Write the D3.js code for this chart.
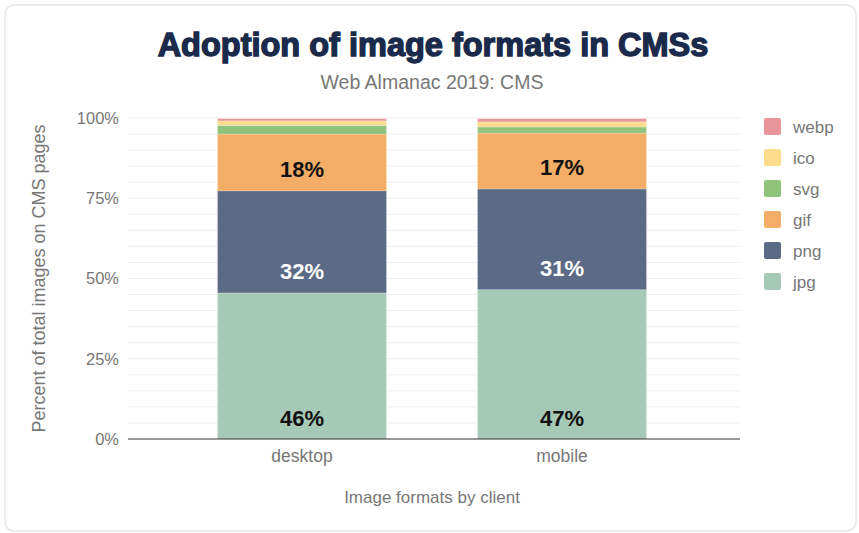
<!DOCTYPE html>
<html>
<head>
<meta charset="utf-8">
<script src="https://cdn.jsdelivr.net/npm/d3@7"></script>
<style>
  html, body { margin: 0; padding: 0; background: #fff; }
  svg { display: block; font-family: "Liberation Sans", Arial, sans-serif; }
</style>
</head>
<body>
<div id="app"></div>
<script>
const width = 859;
const height = 533;

// data
const clients = ['desktop', 'mobile'];
const formats = ['jpg', 'png', 'gif', 'svg', 'ico', 'webp'];
const jpg  = [45.5, 46.5];
const png  = [31.8, 31.4];
const gif  = [17.7, 17.4];
const svgV = [2.7, 1.9];
const ico  = [1.4, 1.6];
const webp = [0.7, 1.0];
const labelled = ['jpg', 'png', 'gif'];
const yTicks = [0, 25, 50, 75, 100];

const colors = {
  jpg: '#a6c8b7',
  png: '#5c6b85',
  gif: '#f4ad67',
  svg: '#8fc47a',
  ico: '#fddd8c',
  webp: '#e8969a'
};
const labelColor = { jpg: '#111', png: '#fff', gif: '#111' };

const rows = clients.map((c, i) => ({
  client: c,
  jpg: jpg[i], png: png[i], gif: gif[i],
  svg: svgV[i], ico: ico[i], webp: webp[i]
}));

const stacked = d3.stack().keys(formats)(rows);

const margin = { top: 118, right: 119, bottom: 94, left: 128 };

const svg = d3.select('#app').append('svg')
  .attr('width', width)
  .attr('height', height);

// card
svg.append('rect')
  .attr('x', 5).attr('y', 5)
  .attr('width', 851).attr('height', 526)
  .attr('rx', 9)
  .attr('fill', '#fff')
  .attr('stroke', '#e6e6e6')
  .attr('stroke-width', 1.5);

const y = d3.scaleLinear()
  .domain([0, 100])
  .range([height - margin.bottom, margin.top]);

const x = d3.scaleBand()
  .domain(clients)
  .range([172, 692])
  .paddingInner(0.35)
  .paddingOuter(0.175);

// gridlines every 5%
svg.append('g')
  .selectAll('line')
  .data(d3.range(5, 101, 5))
  .join('line')
  .attr('x1', margin.left)
  .attr('x2', width - margin.right)
  .attr('y1', d => y(d))
  .attr('y2', d => y(d))
  .attr('stroke', '#efefef')
  .attr('stroke-width', 1);

// bars
svg.append('g')
  .selectAll('g')
  .data(stacked)
  .join('g')
  .attr('fill', d => colors[d.key])
  .selectAll('rect')
  .data(d => d)
  .join('rect')
  .attr('x', d => x(d.data.client))
  .attr('width', x.bandwidth())
  .attr('y', d => y(d[1]))
  .attr('height', d => y(d[0]) - y(d[1]))
  .attr('stroke', '#fff')
  .attr('stroke-opacity', 0.35)
  .attr('stroke-width', 0.6);

// value labels
svg.append('g')
  .selectAll('g')
  .data(stacked.filter(s => labelled.includes(s.key)))
  .join('g')
  .attr('fill', d => labelColor[d.key])
  .selectAll('text')
  .data(d => d)
  .join('text')
  .attr('x', d => x(d.data.client) + x.bandwidth() / 2)
  .attr('y', d => y(d[0]) - 21)
  .attr('text-anchor', 'middle')
  .attr('dominant-baseline', 'central')
  .style('font-size', '22px')
  .style('font-weight', 'bold')
  .text(d => d3.format('.0f')(d[1] - d[0]) + '%');

// y axis
const yAxis = svg.append('g')
  .attr('transform', `translate(${margin.left},0)`)
  .call(d3.axisLeft(y).tickValues(yTicks).tickFormat(d => d + '%').tickSize(0).tickPadding(9));
yAxis.select('.domain').remove();
yAxis.selectAll('text')
  .style('font-size', '16.5px')
  .attr('fill', '#777');

// x axis
const xAxis = svg.append('g')
  .attr('transform', `translate(0,${height - margin.bottom})`)
  .call(d3.axisBottom(x).tickSize(0).tickPadding(11));
xAxis.select('.domain').remove();
xAxis.selectAll('text')
  .style('font-size', '17.5px')
  .attr('fill', '#777');

svg.append('line')
  .attr('x1', margin.left)
  .attr('x2', width - margin.right)
  .attr('y1', y(0))
  .attr('y2', y(0))
  .attr('stroke', '#333')
  .attr('stroke-width', 1.2);

// titles
svg.append('text')
  .attr('x', 433)
  .attr('y', 56)
  .attr('text-anchor', 'middle')
  .attr('fill', '#1a2a4a')
  .attr('stroke', '#1a2a4a')
  .attr('stroke-width', 1.4)
  .style('font-size', '32.5px')
  .style('font-weight', 'bold')
  .text('Adoption of image formats in CMSs');

svg.append('text')
  .attr('x', 432)
  .attr('y', 89)
  .attr('text-anchor', 'middle')
  .attr('fill', '#777')
  .style('font-size', '19.5px')
  .text('Web Almanac 2019: CMS');

svg.append('text')
  .attr('transform', `translate(45,${(y(0) + y(100)) / 2}) rotate(-90)`)
  .attr('text-anchor', 'middle')
  .attr('fill', '#777')
  .style('font-size', '18px')
  .text('Percent of total images on CMS pages');

svg.append('text')
  .attr('x', 432)
  .attr('y', 503)
  .attr('text-anchor', 'middle')
  .attr('fill', '#777')
  .style('font-size', '17px')
  .text('Image formats by client');

// legend
const legend = svg.append('g')
  .selectAll('g')
  .data(formats.slice().reverse())
  .join('g')
  .attr('transform', (d, i) => `translate(764,${118 + i * 31})`);

legend.append('rect')
  .attr('width', 17)
  .attr('height', 17)
  .attr('rx', 2)
  .attr('fill', d => colors[d]);

legend.append('text')
  .attr('x', 29)
  .attr('y', 9)
  .attr('dominant-baseline', 'central')
  .attr('fill', '#777')
  .style('font-size', '17px')
  .text(d => d);
</script>
</body>
</html>
